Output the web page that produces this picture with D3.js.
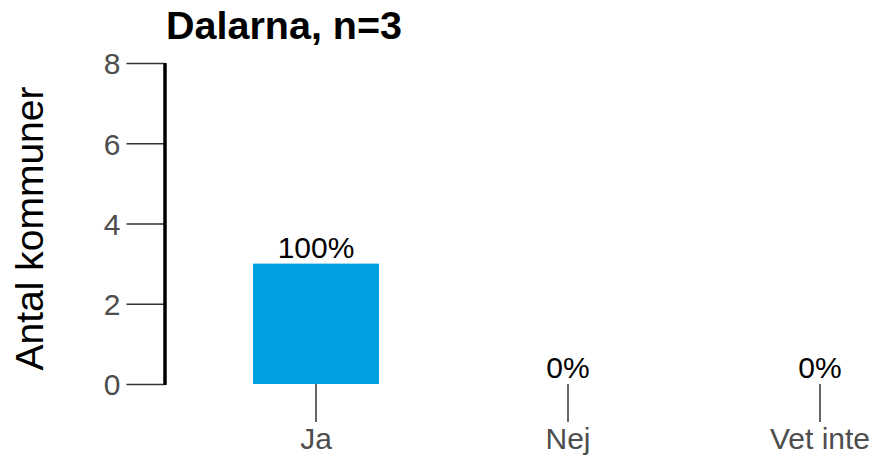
<!DOCTYPE html>
<html>
<head>
<meta charset="utf-8">
<script src="https://cdn.jsdelivr.net/npm/d3@7"></script>
<style>
  html, body { margin: 0; padding: 0; background: #fff; }
  svg { display: block; font-family: "Liberation Sans", Arial, sans-serif; }
</style>
</head>
<body>
<svg id="chart" width="875" height="463"></svg>
<script>
const title = "Dalarna, n=3";
const yAxisTitle = "Antal kommuner";
const categories = ["Ja", "Nej", "Vet inte"];
const counts = [3, 0, 0];
const percentLabels = ["100%", "0%", "0%"];
const yTicks = [0, 2, 4, 6, 8];

const svg = d3.select("#chart");

const y = d3.scaleLinear().domain([0, 8]).range([384, 63]);
const x = d3.scaleBand().domain(categories).range([190, 946])
  .paddingInner(0.5).paddingOuter(0.25);

// Title
svg.append("text")
  .attr("x", 166).attr("y", 39)
  .attr("font-size", 39.5).attr("font-weight", "bold")
  .attr("fill", "#000")
  .text(title);

// Y axis
const yAxis = svg.append("g").attr("transform", "translate(164.5,0)")
  .call(d3.axisLeft(y).tickValues(yTicks).tickSize(38).tickPadding(6).tickFormat(d3.format("d")));
yAxis.select(".domain").remove();
yAxis.selectAll(".tick line").attr("stroke", "#333").attr("stroke-width", 1.5);
yAxis.selectAll(".tick text").attr("fill", "#4d4d4d").attr("font-size", 30)
  .attr("font-family", "Liberation Sans, Arial, sans-serif").attr("dy", "0.36em");

svg.append("line")
  .attr("x1", 165).attr("x2", 165)
  .attr("y1", y(8)).attr("y2", y(0) + 1)
  .attr("stroke", "#000").attr("stroke-width", 3.5);

// Y axis title
svg.append("text")
  .attr("transform", `translate(43,${(y(0) + y(8)) / 2 + 5}) rotate(-90)`)
  .attr("text-anchor", "middle")
  .attr("font-size", 39)
  .attr("fill", "#000")
  .text(yAxisTitle);

// Bars
svg.append("g").selectAll("rect")
  .data(categories)
  .join("rect")
  .attr("x", d => x(d))
  .attr("width", x.bandwidth())
  .attr("y", (d, i) => y(counts[i]))
  .attr("height", (d, i) => y(0) - y(counts[i]))
  .attr("fill", "#00a0e1");

// X axis
const xAxis = svg.append("g").attr("transform", `translate(0,${y(0)})`)
  .call(d3.axisBottom(x).tickSize(38).tickPadding(6));
xAxis.select(".domain").remove();
xAxis.selectAll(".tick line").attr("stroke", "#333").attr("stroke-width", 1.5);
xAxis.selectAll(".tick text").attr("fill", "#4d4d4d").attr("font-size", 30)
  .attr("font-family", "Liberation Sans, Arial, sans-serif");

// Value labels
svg.append("g").selectAll("text")
  .data(categories)
  .join("text")
  .attr("x", d => x(d) + x.bandwidth() / 2)
  .attr("y", (d, i) => y(counts[i]) - 6)
  .attr("text-anchor", "middle")
  .attr("font-size", 30)
  .attr("fill", "#000")
  .text((d, i) => percentLabels[i]);
</script>
</body>
</html>
